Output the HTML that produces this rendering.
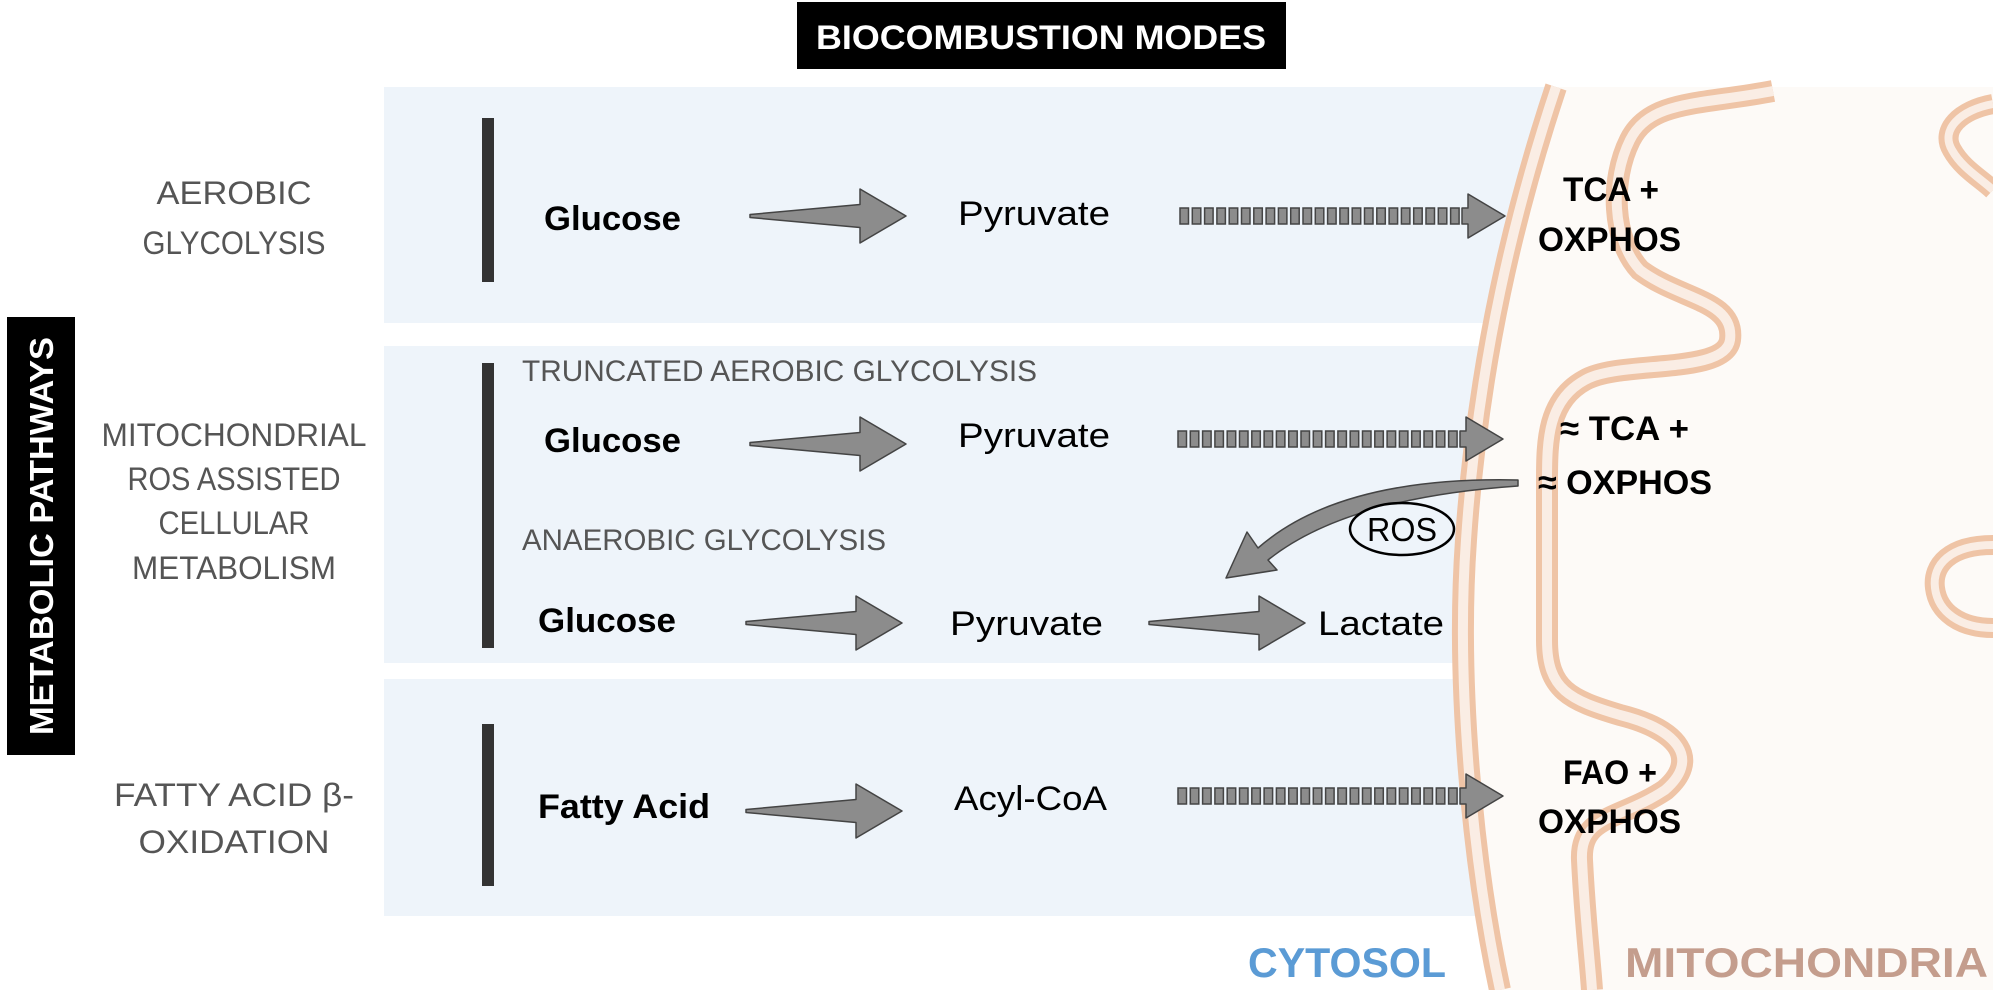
<!DOCTYPE html>
<html><head><meta charset="utf-8"><style>
html,body{margin:0;padding:0;background:#fff;}
svg{display:block;}
text{font-family:"Liberation Sans",sans-serif;}
</style></head><body>
<svg width="2008" height="990" viewBox="0 0 2008 990" xmlns="http://www.w3.org/2000/svg">
<defs>
<g id="sa"><polygon points="0,-1.5 110,-11.5 110,-27 156,0 110,27 110,11.5 0,1.5" fill="#8c8c8c" stroke="#444" stroke-width="1.5" stroke-linejoin="round"/></g>
<g id="da">
<g fill="#8c8c8c" stroke="#444" stroke-width="1.5">
<rect x="0" y="-8" width="8.5" height="16"/><rect x="12.3" y="-8" width="8.5" height="16"/><rect x="24.6" y="-8" width="8.5" height="16"/><rect x="36.9" y="-8" width="8.5" height="16"/><rect x="49.2" y="-8" width="8.5" height="16"/><rect x="61.5" y="-8" width="8.5" height="16"/><rect x="73.8" y="-8" width="8.5" height="16"/><rect x="86.1" y="-8" width="8.5" height="16"/><rect x="98.4" y="-8" width="8.5" height="16"/><rect x="110.7" y="-8" width="8.5" height="16"/><rect x="123" y="-8" width="8.5" height="16"/><rect x="135.3" y="-8" width="8.5" height="16"/><rect x="147.6" y="-8" width="8.5" height="16"/><rect x="159.9" y="-8" width="8.5" height="16"/><rect x="172.2" y="-8" width="8.5" height="16"/><rect x="184.5" y="-8" width="8.5" height="16"/><rect x="196.8" y="-8" width="8.5" height="16"/><rect x="209.1" y="-8" width="8.5" height="16"/><rect x="221.4" y="-8" width="8.5" height="16"/><rect x="233.7" y="-8" width="8.5" height="16"/><rect x="246" y="-8" width="8.5" height="16"/><rect x="258.3" y="-8" width="8.5" height="16"/><rect x="270.6" y="-8" width="8.5" height="16"/>
<polygon points="282,-8 288,-8 288,-22 325,0 288,22 288,8 282,8" stroke-linejoin="round"/>
</g></g>
</defs>

<rect x="384" y="87" width="1180" height="236" fill="#eef4fa"/>
<rect x="384" y="346" width="1180" height="317" fill="#eef4fa"/>
<rect x="384" y="679" width="1180" height="237" fill="#eef4fa"/>

<path d="M1556,87 L1993,87 L1993,990 L1500,990 C1472,860 1456,680 1466,540 C1478,360 1515,210 1556,87 Z" fill="#fdfaf7"/>
<path d="M1556,87 C1515,210 1478,360 1466,540 C1456,680 1472,860 1500,990" fill="none" stroke="#efc4a6" stroke-width="22"/>
<path d="M1556,87 C1515,210 1478,360 1466,540 C1456,680 1472,860 1500,990" fill="none" stroke="#faede4" stroke-width="10"/>
<path d="M1773,91 C1700,105 1650,100 1630,140 C1610,180 1612,240 1640,270 C1680,300 1735,300 1730,340 C1725,375 1620,360 1585,380 C1548,400 1547,440 1547,480 L1547,640 C1547,690 1570,700 1620,715 C1680,730 1700,760 1665,790 C1620,820 1580,815 1582,860 C1585,920 1590,960 1592,990" fill="none" stroke="#efc4a6" stroke-width="22"/>
<path d="M1773,91 C1700,105 1650,100 1630,140 C1610,180 1612,240 1640,270 C1680,300 1735,300 1730,340 C1725,375 1620,360 1585,380 C1548,400 1547,440 1547,480 L1547,640 C1547,690 1570,700 1620,715 C1680,730 1700,760 1665,790 C1620,820 1580,815 1582,860 C1585,920 1590,960 1592,990" fill="none" stroke="#faede4" stroke-width="10"/>
<path d="M1993,104 C1960,110 1940,130 1952,150 C1962,168 1980,178 1993,190" fill="none" stroke="#efc4a6" stroke-width="20"/>
<path d="M1993,104 C1960,110 1940,130 1952,150 C1962,168 1980,178 1993,190" fill="none" stroke="#faede4" stroke-width="8"/>
<path d="M1993,545 C1950,545 1932,565 1935,588 C1938,612 1960,628 1993,628" fill="none" stroke="#efc4a6" stroke-width="20"/>
<path d="M1993,545 C1950,545 1932,565 1935,588 C1938,612 1960,628 1993,628" fill="none" stroke="#faede4" stroke-width="8"/>
<rect x="1993" y="87" width="15" height="903" fill="#fff"/>

<rect x="797" y="2" width="489" height="67" fill="#000"/>
<text x="1041" y="49" font-size="34" font-weight="bold" fill="#fff" text-anchor="middle" textLength="450" lengthAdjust="spacingAndGlyphs">BIOCOMBUSTION MODES</text>

<rect x="7" y="317" width="68" height="438" fill="#000"/>
<text transform="translate(53,536) rotate(-90)" font-size="33" font-weight="bold" fill="#fff" text-anchor="middle" textLength="398" lengthAdjust="spacingAndGlyphs">METABOLIC PATHWAYS</text>

<g fill="#555" font-size="32" text-anchor="middle">
<text x="234" y="204" textLength="155" lengthAdjust="spacingAndGlyphs">AEROBIC</text>
<text x="234" y="254" textLength="183" lengthAdjust="spacingAndGlyphs">GLYCOLYSIS</text>
<text x="234" y="446" textLength="265" lengthAdjust="spacingAndGlyphs">MITOCHONDRIAL</text>
<text x="234" y="490" textLength="213" lengthAdjust="spacingAndGlyphs">ROS ASSISTED</text>
<text x="234" y="534" textLength="151" lengthAdjust="spacingAndGlyphs">CELLULAR</text>
<text x="234" y="579" textLength="204" lengthAdjust="spacingAndGlyphs">METABOLISM</text>
<text x="234" y="806" textLength="240" lengthAdjust="spacingAndGlyphs">FATTY ACID β-</text>
<text x="234" y="853" textLength="191" lengthAdjust="spacingAndGlyphs">OXIDATION</text>
</g>

<rect x="482" y="118" width="12" height="164" fill="#333"/>
<rect x="482" y="363" width="12" height="285" fill="#333"/>
<rect x="482" y="724" width="12" height="162" fill="#333"/>

<text x="522" y="381" font-size="30" fill="#555" textLength="515" lengthAdjust="spacingAndGlyphs">TRUNCATED AEROBIC GLYCOLYSIS</text>
<text x="522" y="550" font-size="30" fill="#555" textLength="364" lengthAdjust="spacingAndGlyphs">ANAEROBIC GLYCOLYSIS</text>

<g font-size="34" fill="#000">
<text x="544" y="230" font-weight="bold" textLength="137" lengthAdjust="spacingAndGlyphs">Glucose</text>
<text x="958" y="225" textLength="152" lengthAdjust="spacingAndGlyphs">Pyruvate</text>
<text x="544" y="452" font-weight="bold" textLength="137" lengthAdjust="spacingAndGlyphs">Glucose</text>
<text x="958" y="447" textLength="152" lengthAdjust="spacingAndGlyphs">Pyruvate</text>
<text x="538" y="632" font-weight="bold" textLength="138" lengthAdjust="spacingAndGlyphs">Glucose</text>
<text x="950" y="635" textLength="153" lengthAdjust="spacingAndGlyphs">Pyruvate</text>
<text x="1318" y="635" textLength="126" lengthAdjust="spacingAndGlyphs">Lactate</text>
<text x="538" y="818" font-weight="bold" textLength="172" lengthAdjust="spacingAndGlyphs">Fatty Acid</text>
<text x="954" y="810" textLength="153" lengthAdjust="spacingAndGlyphs">Acyl-CoA</text>
</g>
<g font-size="34" font-weight="bold" fill="#000">
<text x="1563" y="201" textLength="96" lengthAdjust="spacingAndGlyphs">TCA +</text>
<text x="1538" y="251" textLength="143" lengthAdjust="spacingAndGlyphs">OXPHOS</text>
<text x="1560" y="440" textLength="129" lengthAdjust="spacingAndGlyphs">≈ TCA +</text>
<text x="1538" y="494" textLength="174" lengthAdjust="spacingAndGlyphs">≈ OXPHOS</text>
<text x="1563" y="784" textLength="94" lengthAdjust="spacingAndGlyphs">FAO +</text>
<text x="1538" y="833" textLength="143" lengthAdjust="spacingAndGlyphs">OXPHOS</text>
</g>

<use href="#sa" x="750" y="216"/>
<use href="#sa" x="750" y="444"/>
<use href="#sa" x="746" y="623"/>
<use href="#sa" x="1149" y="623"/>
<use href="#sa" x="746" y="811"/>
<use href="#da" x="1180" y="216"/>
<use href="#da" x="1178" y="439"/>
<use href="#da" x="1178" y="796"/>

<path d="M1518,480 Q1340,476 1258,548 L1247,532 L1226,578 L1277,570 L1268,560 Q1345,498 1518,486 Z" fill="#8c8c8c" stroke="#444" stroke-width="1.5" stroke-linejoin="round"/>
<ellipse cx="1402" cy="529" rx="52" ry="26" fill="#eef4fa" stroke="#000" stroke-width="2.5"/>
<text x="1402" y="541" font-size="33" text-anchor="middle" fill="#000" textLength="70" lengthAdjust="spacingAndGlyphs">ROS</text>

<text x="1248" y="977" font-size="42" font-weight="bold" fill="#5b9bd5" textLength="198" lengthAdjust="spacingAndGlyphs">CYTOSOL</text>
<text x="1625" y="977" font-size="42" font-weight="bold" fill="#c49d8d" textLength="363" lengthAdjust="spacingAndGlyphs">MITOCHONDRIA</text>
</svg>
</body></html>
